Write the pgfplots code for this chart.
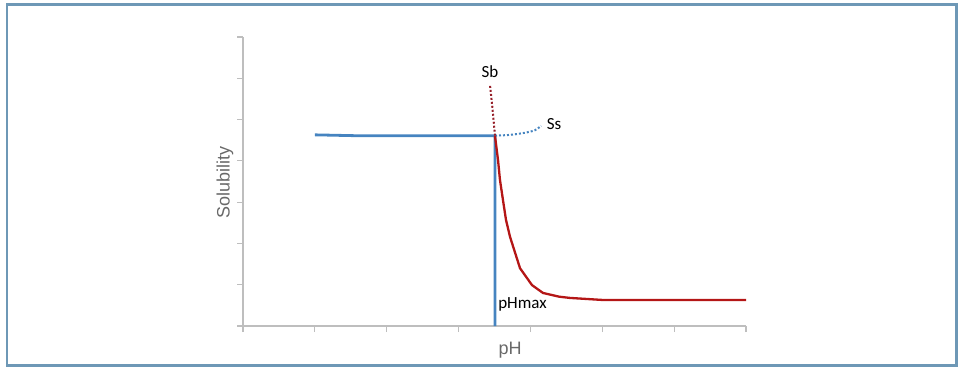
\documentclass[border=0pt]{standalone}
\usepackage{fontspec}
\setmainfont{Liberation Sans}
\newfontfamily\calibri{Carlito}
\usepackage{pgfplots}
\pgfplotsset{compat=1.18}
\definecolor{frameblue}{RGB}{110,152,182}
\definecolor{lineblue}{RGB}{70,132,192}
\definecolor{linered}{RGB}{180,22,22}
\definecolor{dotred}{RGB}{150,30,40}
\definecolor{axgray}{RGB}{190,190,190}
\definecolor{labgray}{RGB}{105,105,105}
\begin{document}
\begin{tikzpicture}
\path[use as bounding box] (0pt,0pt) rectangle (964pt,-371pt);
\draw[frameblue, line width=2.5pt] (7pt,-4.5pt) rectangle (956.5pt,-365.5pt);
\begin{axis}[
  at={(243pt,-326pt)}, anchor=south west,
  scale only axis, width=503pt, height=289pt,
  xmin=0, xmax=7, ymin=0, ymax=7,
  axis x line*=bottom, axis y line*=left,
  axis line style={axgray, line width=2pt, -},
  xtick={0,...,7}, ytick={0,...,7},
  xticklabels={}, yticklabels={},
  tick align=outside, major tick length=6pt,
  tick style={axgray, line width=1.2pt},
  clip=false,
  xlabel={pH}, ylabel={Solubility},
  label style={font=\fontsize{18}{20}\selectfont, text=labgray},
  xlabel style={at={(axis description cs:0.531,-0.083)}, anchor=center},
  ylabel style={at={(axis description cs:-0.036,0.498)}, anchor=center, rotate=0},
]
\addplot[lineblue, line width=2.8pt] coordinates {
  (1,4.63) (1.55,4.61) (3.507,4.61) (3.507,0)
};
\addplot[lineblue, line width=2pt, dotted, smooth] coordinates {
  (3.507,4.61) (3.72,4.63) (3.92,4.68) (4.06,4.74) (4.15,4.85)
};
\addplot[dotred, line width=2pt, dotted] coordinates {
  (3.507,4.61) (3.47,5.3) (3.437,5.84)
};
\addplot[linered, line width=2.3pt] coordinates {
  (3.507,4.60) (3.549,4.02) (3.576,3.54) (3.618,3.05) (3.66,2.57)
  (3.716,2.16) (3.855,1.40) (4.022,0.99) (4.175,0.80) (4.4,0.71)
  (4.55,0.68) (5.01,0.63) (7,0.63)
};
\node[font=\calibri\fontsize{17}{19}\selectfont, anchor=center] at (axis cs:3.437,6.15) {Sb};
\node[font=\calibri\fontsize{17}{19}\selectfont, anchor=center] at (axis cs:4.33,4.89) {Ss};
\node[font=\calibri\fontsize{17}{19}\selectfont, anchor=west, inner sep=0pt] at (axis cs:3.55,0.52) {pHmax};
\end{axis}
\end{tikzpicture}
\end{document}
